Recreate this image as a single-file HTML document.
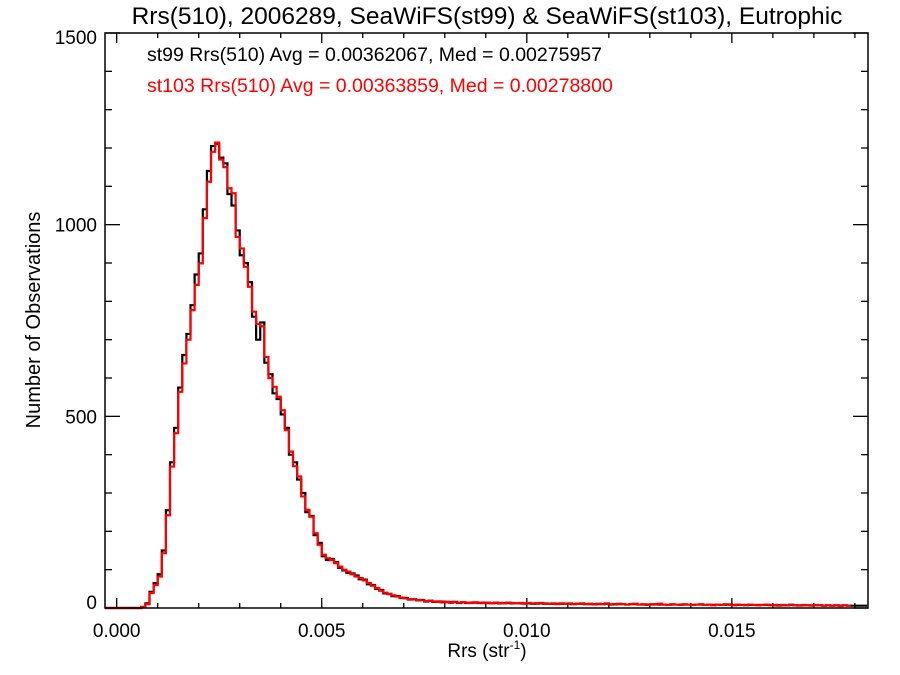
<!DOCTYPE html>
<html><head><meta charset="utf-8"><style>
body{margin:0;background:#fff}
svg{display:block;font-family:"Liberation Sans",Arial,sans-serif}
</style></head><body>
<svg id="chart" width="900" height="675" viewBox="0 0 900 675" xmlns="http://www.w3.org/2000/svg">
<rect width="900" height="675" fill="#fff"/>
<text x="487" y="24" font-size="24.5" text-anchor="middle">Rrs(510), 2006289, SeaWiFS(st99) &amp; SeaWiFS(st103), Eutrophic</text>
<text x="147" y="61" font-size="19.5">st99 Rrs(510) Avg = 0.00362067, Med = 0.00275957</text>
<text x="147" y="92" font-size="19.5" fill="#ff0000">st103 Rrs(510) Avg = 0.00363859, Med = 0.00278800</text>
<text x="487" y="657" font-size="19" text-anchor="middle">Rrs (str<tspan font-size="12" dy="-8">-1</tspan><tspan dy="8">)</tspan></text>
<text transform="translate(40,320) rotate(-90)" font-size="20" text-anchor="middle">Number of Observations</text>
<g id="axes"></g>
<g id="series"></g>
<rect x="105" y="33" width="763" height="575" fill="none" stroke="#000" stroke-width="1.5"/>
</svg>
<script>
const binWidth = 0.0001;
const st103 = [0,0,0,0,0,0,2,10,39,60,82,143,242,369,456,564,638,700,777,843,899,1017,1112,1190,1214,1170,1150,1095,1082,968,938,890,838,773,741,735,655,600,577,551,516,464,408,370,343,291,256,238,195,165,139,130,125,117,108,100,95,88,82,78,72,65,58,52,45,40,36,33,30,27,25,23,22,21,20,18,18,17,16,17,15,16,15,14,15,14,13,15,14,13,14,12,14,13,12,14,13,12,13,11,13,12,11,13,12,11,12,10,12,11,12,10,11,12,10,11,9,11,10,12,10,9,11,10,9,10,11,9,10,8,10,9,11,9,8,10,9,8,10,9,8,9,10,8,9,7,9,8,10,8,7,9,8,7,9,8,7,8,9,7,8,6,8,7,9,7,6,8,7,6,8,7,6,7,6,7,5,7,6];
const st99 = [0,0,0,0,0,0,3,12,42,65,88,150,255,380,470,575,660,715,790,870,925,1040,1140,1205,1210,1175,1160,1080,1050,985,920,900,850,760,700,745,640,610,560,545,505,470,400,380,335,300,250,240,190,170,135,125,128,120,105,98,92,90,85,75,74,62,60,50,47,38,37,31,31,26,26,22,23,20,21,17,19,16,17,15,16,14,16,13,15,13,14,14,13,14,13,12,13,12,13,13,12,12,12,12,12,11,12,12,11,11,11,11,11,11,11,10,11,11,10,10,10,10,10,11,9,10,10,10,9,10,10,9,9,9,9,10,9,9,8,9,9,9,9,9,8,9,9,8,9,8,9,8,8,9,8,8,8,8,8,8,8,8,8,8,7,8,7,7,8,7,7,7,7,7,7,7,6,7,6,7,6,7,6,6,6,6,6];
const xTickLabels = ["0.000","0.005","0.010","0.015"];
const xTickValues = [0,0.005,0.010,0.015];
const yTickValues = [0,500,1000,1500];

const L=105,R=868,T=33,B=608;
const xMin=-0.000285,xMax=0.01832,yMin=0,yMax=1500;
const X=v=>L+(v-xMin)/(xMax-xMin)*(R-L);
const Y=v=>B-(v-yMin)/(yMax-yMin)*(B-T);
const NS="http://www.w3.org/2000/svg";
const axes=document.getElementById('axes'), ser=document.getElementById('series');
function line(x1,y1,x2,y2){const l=document.createElementNS(NS,'line');l.setAttribute('x1',x1);l.setAttribute('y1',y1);l.setAttribute('x2',x2);l.setAttribute('y2',y2);l.setAttribute('stroke','#000');l.setAttribute('stroke-width','1.3');axes.appendChild(l);return l;}
for(let i=0;i<=18;i++){const v=i*0.001;const x=X(v);const len=(i%5===0)?10:5;
 const a=line(x,B,x,B-len);
 const b=line(x,T,x,T+len);}
xTickValues.forEach((v,i)=>{const t=document.createElementNS(NS,'text');t.setAttribute('x',X(v));t.setAttribute('y',B+29);t.setAttribute('font-size','19');t.setAttribute('text-anchor','middle');t.textContent=xTickLabels[i];


axes.appendChild(t);});
for(let v=0;v<=1500;v+=100){const y=Y(v);const len=(v%500===0)?15:7;
 const a=line(L,y,L+len,y);
 const b=line(R,y,R-len,y);}
yTickValues.forEach(v=>{const t=document.createElementNS(NS,'text');t.setAttribute('x',97);t.setAttribute('y',Y(v)+7-(v===0?6:0)+(v===1500?4:0));t.setAttribute('font-size','19');t.setAttribute('text-anchor','end');t.textContent=String(v);


axes.appendChild(t);});
function steps(arr,color,name){
 let d='M'+X(xMin)+','+Y(0)+' L'+X(0)+','+Y(0);
 arr.forEach((c,i)=>{const x0=X(i*binWidth),x1=Math.min(X((i+1)*binWidth),R);d+=' L'+x0+','+Y(c)+' L'+x1+','+Y(c);});
 const p=document.createElementNS(NS,'path');p.setAttribute('d',d);p.setAttribute('fill','none');p.setAttribute('stroke',color);p.setAttribute('stroke-width','2.2');
 
 
 ser.appendChild(p);}
steps(st99,'#000','st99-histogram');
steps(st103,'#ff0000','st103-histogram');
</script>
</body></html>
